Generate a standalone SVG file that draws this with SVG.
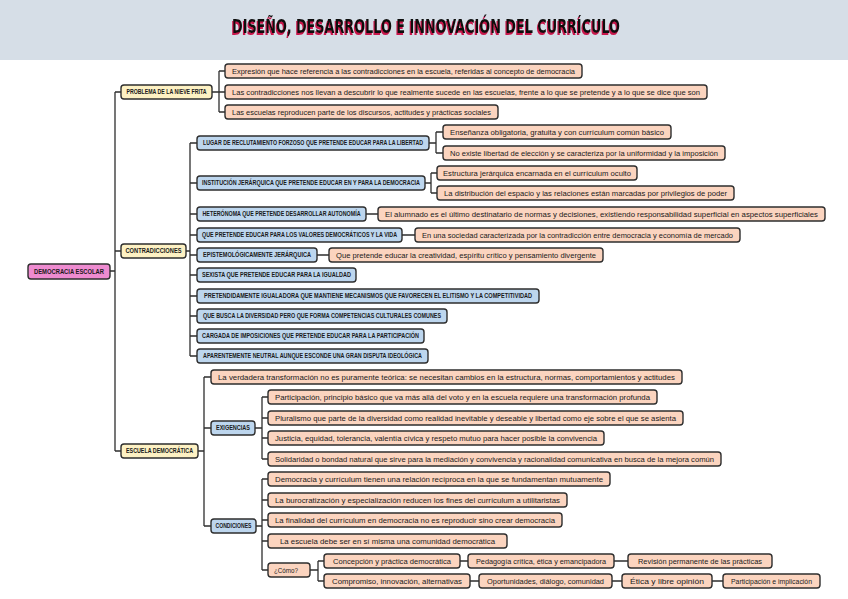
<svg xmlns="http://www.w3.org/2000/svg" width="848" height="599" viewBox="0 0 848 599">
<style>
.bx{stroke:#2e2e2e;stroke-width:1.4}
.lf{fill:#fbd4bf}
.bl{fill:#bdd6ee}
.ye{fill:#fdf1c3}
.pk{fill:#ee8bd0}
.t{font-family:"Liberation Sans",Arial,sans-serif;font-size:7.2px;fill:#1a1a1a;text-anchor:middle}
.c{font-family:"Liberation Sans",Arial,sans-serif;font-size:6.6px;font-weight:bold;fill:#1a1a1a;text-anchor:middle}
.cn{fill:none;stroke:#2e2e2e;stroke-width:1.3}
.ti{font-family:"DejaVu Sans","Liberation Sans",sans-serif;font-size:20px;font-weight:bold;text-anchor:middle;fill:#111111}
</style>
<defs>
<filter id="sh" x="-5%" y="-30%" width="110%" height="160%">
<feFlood flood-color="#c8174c"/>
<feComposite in2="SourceAlpha" operator="in"/>
<feOffset dx="-1.5" dy="2" result="s"/>
<feMerge><feMergeNode in="s"/><feMergeNode in="SourceGraphic"/></feMerge>
</filter>
</defs>
<rect x="0" y="0" width="848" height="599" fill="#ffffff"/>
<rect x="0" y="0" width="848" height="60" fill="#d6dee7"/>
<g id="title">
<text class="ti" x="426" y="33" filter="url(#sh)" textLength="388" lengthAdjust="spacingAndGlyphs">DISEÑO, DESARROLLO E INNOVACIÓN DEL CURRÍCULO</text>
</g>
<g id="connectors">
<path class="cn" d="M110 271H115M115 92V451M115 92H121M115 251H121M115 451H121"/>
<path class="cn" d="M212 92H219M219 71V112M219 71H225M219 92H225M219 112H225"/>
<path class="cn" d="M186 251H190M190 143V356M190 143H197M190 183H197M190 214H197M190 235H197M190 255H197M190 275H197M190 296H197M190 316H197M190 336H197M190 356H197"/>
<path class="cn" d="M429 143H436M436 132V153M436 132H443M436 153H443"/>
<path class="cn" d="M425 183H431M431 173V193M431 173H437M431 193H437"/>
<path class="cn" d="M366 214H378M402 235H415M317 255H329"/>
<path class="cn" d="M198 451H204M204 377V526M204 377H211M204 428H211M204 526H211"/>
<path class="cn" d="M255 428H262M262 397V459M262 397H268M262 418H268M262 438H268M262 459H268"/>
<path class="cn" d="M256 526H262M262 479V570M262 479H268M262 500H268M262 520H268M262 541H268M262 570H268"/>
<path class="cn" d="M310 570H318M318 561V581M318 561H324M318 581H324"/>
<path class="cn" d="M460 561H468M614 561H628M470 581H479M612 581H622M712 581H723"/>
</g>
<g id="root"><rect class="bx pk" x="28" y="264" width="82" height="15" rx="3"/><text class="c" x="69" y="273.8" textLength="70" lengthAdjust="spacingAndGlyphs">DEMOCRACIA ESCOLAR</text></g>
<g id="problema"><rect class="bx ye" x="121" y="85" width="91" height="14" rx="3"/><text class="c" x="166.5" y="94.3" textLength="80" lengthAdjust="spacingAndGlyphs">PROBLEMA DE LA NIEVE FRITA</text></g>
<g id="p1"><rect class="bx lf" x="225" y="64" width="357" height="14" rx="3"/><text class="t" x="403.5" y="73.5" textLength="343" lengthAdjust="spacingAndGlyphs">Expresión que hace referencia a las contradicciones en la escuela, referidas al concepto de democracia</text></g>
<g id="p2"><rect class="bx lf" x="225" y="85" width="482" height="14" rx="3"/><text class="t" x="466" y="94.5" textLength="468" lengthAdjust="spacingAndGlyphs">Las contradicciones nos llevan a descubrir lo que realmente sucede en las escuelas, frente a lo que se pretende y a lo que se dice que son</text></g>
<g id="p3"><rect class="bx lf" x="225" y="105" width="273" height="14" rx="3"/><text class="t" x="361.5" y="114.5" textLength="259" lengthAdjust="spacingAndGlyphs">Las escuelas reproducen parte de los discursos, actitudes y prácticas sociales</text></g>
<g id="contradicciones"><rect class="bx ye" x="121" y="244" width="65" height="14" rx="3"/><text class="c" x="153.5" y="253.3" textLength="56" lengthAdjust="spacingAndGlyphs">CONTRADICCIONES</text></g>
<g id="c1"><rect class="bx bl" x="197" y="136" width="232" height="14" rx="3"/><text class="c" x="313" y="145.3" textLength="220" lengthAdjust="spacingAndGlyphs">LUGAR DE RECLUTAMIENTO FORZOSO QUE PRETENDE EDUCAR PARA LA LIBERTAD</text></g>
<g id="c1a"><rect class="bx lf" x="443" y="125" width="228" height="14" rx="3"/><text class="t" x="557" y="134.5" textLength="214" lengthAdjust="spacingAndGlyphs">Enseñanza obligatoria, gratuita y con currículum común básico</text></g>
<g id="c1b"><rect class="bx lf" x="443" y="146" width="282" height="14" rx="3"/><text class="t" x="584" y="155.5" textLength="268" lengthAdjust="spacingAndGlyphs">No existe libertad de elección y se caracteriza por la uniformidad y la imposición</text></g>
<g id="c2"><rect class="bx bl" x="197" y="176" width="228" height="14" rx="3"/><text class="c" x="311" y="185.3" textLength="218" lengthAdjust="spacingAndGlyphs">INSTITUCIÓN JERÁRQUICA QUE PRETENDE EDUCAR EN Y PARA LA DEMOCRACIA</text></g>
<g id="c2a"><rect class="bx lf" x="437" y="166" width="200" height="14" rx="3"/><text class="t" x="537" y="175.5" textLength="188" lengthAdjust="spacingAndGlyphs">Estructura jerárquica encarnada en el currículum oculto</text></g>
<g id="c2b"><rect class="bx lf" x="437" y="186" width="297" height="14" rx="3"/><text class="t" x="585.5" y="195.5" textLength="283" lengthAdjust="spacingAndGlyphs">La distribución del espacio y las relaciones están marcadas por privilegios de poder</text></g>
<g id="c3"><rect class="bx bl" x="197" y="207" width="169" height="14" rx="3"/><text class="c" x="281.5" y="216.3" textLength="158" lengthAdjust="spacingAndGlyphs">HETERÓNOMA QUE PRETENDE DESARROLLAR AUTONOMÍA</text></g>
<g id="c3a"><rect class="bx lf" x="378" y="207" width="447" height="14" rx="3"/><text class="t" x="601.5" y="216.5" textLength="433" lengthAdjust="spacingAndGlyphs">El alumnado es el último destinatario de normas y decisiones, existiendo responsabilidad superficial en aspectos superficiales</text></g>
<g id="c4"><rect class="bx bl" x="197" y="228" width="205" height="14" rx="3"/><text class="c" x="299.5" y="237.3" textLength="195" lengthAdjust="spacingAndGlyphs">QUE PRETENDE EDUCAR PARA LOS VALORES DEMOCRÁTICOS Y LA VIDA</text></g>
<g id="c4a"><rect class="bx lf" x="415" y="228" width="325" height="14" rx="3"/><text class="t" x="577.5" y="237.5" textLength="311" lengthAdjust="spacingAndGlyphs">En una sociedad caracterizada por la contradicción entre democracia y economía de mercado</text></g>
<g id="c5"><rect class="bx bl" x="197" y="248" width="120" height="14" rx="3"/><text class="c" x="257" y="257.3" textLength="108" lengthAdjust="spacingAndGlyphs">EPISTEMOLÓGICAMENTE JERÁRQUICA</text></g>
<g id="c5a"><rect class="bx lf" x="329" y="248" width="274" height="14" rx="3"/><text class="t" x="466" y="257.5" textLength="260" lengthAdjust="spacingAndGlyphs">Que pretende educar la creatividad, espíritu crítico y pensamiento divergente</text></g>
<g id="c6"><rect class="bx bl" x="197" y="268" width="159" height="14" rx="3"/><text class="c" x="276.5" y="277.3" textLength="149" lengthAdjust="spacingAndGlyphs">SEXISTA QUE PRETENDE EDUCAR PARA LA IGUALDAD</text></g>
<g id="c7"><rect class="bx bl" x="197" y="289" width="342" height="14" rx="3"/><text class="c" x="368" y="298.3" textLength="328" lengthAdjust="spacingAndGlyphs">PRETENDIDAMENTE IGUALADORA QUE MANTIENE MECANISMOS QUE FAVORECEN EL ELITISMO Y LA COMPETITIVIDAD</text></g>
<g id="c8"><rect class="bx bl" x="197" y="309" width="250" height="14" rx="3"/><text class="c" x="322" y="318.3" textLength="238" lengthAdjust="spacingAndGlyphs">QUE BUSCA LA DIVERSIDAD PERO QUE FORMA COMPETENCIAS CULTURALES COMUNES</text></g>
<g id="c9"><rect class="bx bl" x="197" y="329" width="227" height="14" rx="3"/><text class="c" x="310.5" y="338.3" textLength="217" lengthAdjust="spacingAndGlyphs">CARGADA DE IMPOSICIONES QUE PRETENDE EDUCAR PARA LA PARTICIPACIÓN</text></g>
<g id="c10"><rect class="bx bl" x="197" y="349" width="231" height="14" rx="3"/><text class="c" x="312.5" y="358.3" textLength="219" lengthAdjust="spacingAndGlyphs">APARENTEMENTE NEUTRAL AUNQUE ESCONDE UNA GRAN DISPUTA IDEOLÓGICA</text></g>
<g id="escuela"><rect class="bx ye" x="121" y="444" width="77" height="14" rx="3"/><text class="c" x="159.5" y="453.3" textLength="67" lengthAdjust="spacingAndGlyphs">ESCUELA DEMOCRÁTICA</text></g>
<g id="e1"><rect class="bx lf" x="211" y="370" width="471" height="14" rx="3"/><text class="t" x="446.5" y="379.5" textLength="457" lengthAdjust="spacingAndGlyphs">La verdadera transformación no es puramente teórica: se necesitan cambios en la estructura, normas, comportamientos y actitudes</text></g>
<g id="exigencias"><rect class="bx bl" x="211" y="421" width="44" height="14" rx="3"/><text class="c" x="233" y="430.3" textLength="34" lengthAdjust="spacingAndGlyphs">EXIGENCIAS</text></g>
<g id="x1"><rect class="bx lf" x="268" y="390" width="389" height="14" rx="3"/><text class="t" x="462.5" y="399.5" textLength="375" lengthAdjust="spacingAndGlyphs">Participación, principio básico que va más allá del voto y en la escuela requiere una transformación profunda</text></g>
<g id="x2"><rect class="bx lf" x="268" y="411" width="415" height="14" rx="3"/><text class="t" x="475.5" y="420.5" textLength="401" lengthAdjust="spacingAndGlyphs">Pluralismo que parte de la diversidad como realidad inevitable y deseable y libertad como eje sobre el que se asienta</text></g>
<g id="x3"><rect class="bx lf" x="268" y="431" width="336" height="14" rx="3"/><text class="t" x="436" y="440.5" textLength="322" lengthAdjust="spacingAndGlyphs">Justicia, equidad, tolerancia, valentía cívica y respeto mutuo para hacer posible la convivencia</text></g>
<g id="x4"><rect class="bx lf" x="268" y="452" width="453" height="14" rx="3"/><text class="t" x="494.5" y="461.5" textLength="439" lengthAdjust="spacingAndGlyphs">Solidaridad o bondad natural que sirve para la mediación y convivencia y racionalidad comunicativa en busca de la mejora común</text></g>
<g id="condiciones"><rect class="bx bl" x="211" y="519" width="45" height="14" rx="3"/><text class="c" x="233.5" y="528.3" textLength="36" lengthAdjust="spacingAndGlyphs">CONDICIONES</text></g>
<g id="d1"><rect class="bx lf" x="268" y="472" width="342" height="14" rx="3"/><text class="t" x="439" y="481.5" textLength="328" lengthAdjust="spacingAndGlyphs">Democracia y currículum tienen una relación recíproca en la que se fundamentan mutuamente</text></g>
<g id="d2"><rect class="bx lf" x="268" y="493" width="299" height="14" rx="3"/><text class="t" x="417.5" y="502.5" textLength="285" lengthAdjust="spacingAndGlyphs">La burocratización y especialización reducen los fines del currículum a utilitaristas</text></g>
<g id="d3"><rect class="bx lf" x="268" y="513" width="294" height="14" rx="3"/><text class="t" x="415" y="522.5" textLength="280" lengthAdjust="spacingAndGlyphs">La finalidad del currículum en democracia no es reproducir sino crear democracia</text></g>
<g id="d4"><rect class="bx lf" x="268" y="534" width="239" height="14" rx="3"/><text class="t" x="387.5" y="543.5" textLength="215" lengthAdjust="spacingAndGlyphs">La escuela debe ser en sí misma una comunidad democrática</text></g>
<g id="como"><rect class="bx lf" x="268" y="563" width="42" height="14" rx="3"/><text class="t" x="286" y="572.5" textLength="24" lengthAdjust="spacingAndGlyphs">¿Cómo?</text></g>
<g id="k1"><rect class="bx lf" x="324" y="554" width="136" height="14" rx="3"/><text class="t" x="392" y="563.5" textLength="118" lengthAdjust="spacingAndGlyphs">Concepción y práctica democrática</text></g>
<g id="k1a"><rect class="bx lf" x="468" y="554" width="146" height="14" rx="3"/><text class="t" x="541" y="563.5" textLength="130" lengthAdjust="spacingAndGlyphs">Pedagogía crítica, ética y emancipadora</text></g>
<g id="k1b"><rect class="bx lf" x="628" y="554" width="144" height="14" rx="3"/><text class="t" x="700" y="563.5" textLength="124" lengthAdjust="spacingAndGlyphs">Revisión permanente de las prácticas</text></g>
<g id="k2"><rect class="bx lf" x="324" y="574" width="146" height="14" rx="3"/><text class="t" x="397" y="583.5" textLength="130" lengthAdjust="spacingAndGlyphs">Compromiso, innovación, alternativas</text></g>
<g id="k2a"><rect class="bx lf" x="479" y="574" width="133" height="14" rx="3"/><text class="t" x="545.5" y="583.5" textLength="117" lengthAdjust="spacingAndGlyphs">Oportunidades, diálogo, comunidad</text></g>
<g id="k2b"><rect class="bx lf" x="622" y="574" width="90" height="14" rx="3"/><text class="t" x="667" y="583.5" textLength="74" lengthAdjust="spacingAndGlyphs">Ética y libre opinión</text></g>
<g id="k2c"><rect class="bx lf" x="723" y="574" width="97" height="14" rx="3"/><text class="t" x="771.5" y="583.5" textLength="81" lengthAdjust="spacingAndGlyphs">Participación e implicación</text></g>
</svg>
